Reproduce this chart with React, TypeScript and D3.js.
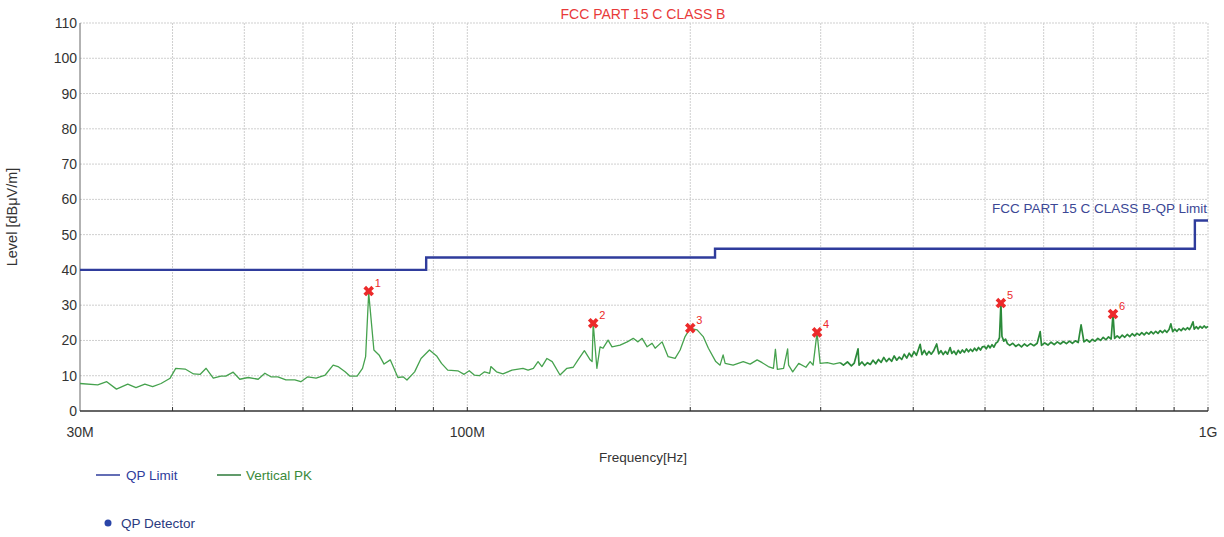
import React, { useEffect, useRef } from 'react';
import * as d3 from 'd3';

const W = 1224;
const H = 537;
const FONT = '"Liberation Sans", Arial, sans-serif';

// axis
const yTicks = [0, 10, 20, 30, 40, 50, 60, 70, 80, 90, 100, 110];
const gridFreqs = [40, 50, 60, 70, 80, 90, 100, 200, 300, 400, 500, 600, 700, 800, 900, 1000];
const xLabelFreqs = [30, 100, 1000];
const xLabelTexts = ['30M', '100M', '1G'];

// FCC part 15 class B QP limit (MHz, dBuV/m)
const limitFreq = [30, 88, 88, 216, 216, 960, 960, 1000];
const limitLevel = [40, 40, 43.5, 43.5, 46, 46, 54, 54];

// suspected peaks
const markerFreq = [73.6, 147.9, 200.0, 296.6, 525.3, 744.3];
const markerLevel = [34.0, 24.9, 23.5, 22.3, 30.6, 27.5];
const markerNames = ['1', '2', '3', '4', '5', '6'];

// vertical PK scan, [MHz, dBuV/m]
const vertPK: [number, number][] = [
  [30, 7.8], [31.7, 7.4], [32.6, 8.3], [33.6, 6.2], [34.8, 7.6], [35.7, 6.6], [36.7, 7.6],
  [37.6, 6.9], [38.6, 7.8], [39.7, 9.3], [40.4, 12.1], [41.6, 11.9], [42.7, 10.5], [43.6, 10.4],
  [44.4, 12.1], [45.4, 9.3], [46.5, 9.9], [47.2, 9.9], [48.3, 11.0], [49.3, 9.0], [50.6, 9.5],
  [52.2, 9.0], [53.3, 10.7], [54.3, 9.7], [55.5, 9.7], [56.9, 8.8], [58.5, 8.8], [59.6, 8.3],
  [60.9, 9.7], [62.5, 9.3], [64.3, 10.2], [65.9, 13.0], [66.9, 12.6], [68.4, 11.1], [69.4, 9.9],
  [71.0, 9.9], [72.2, 12.1], [72.9, 15.4], [73.6, 33.5], [74.8, 17.3], [76.0, 15.9], [77.2, 13.3],
  [78.7, 14.5], [80.6, 9.5], [81.9, 9.7], [82.9, 8.8], [84.9, 11.1], [86.6, 14.9], [88.9, 17.3],
  [90.9, 15.6], [92.3, 13.5], [94.1, 11.6], [97.1, 11.4], [99.0, 10.4], [100.6, 11.4], [102.2, 10.2],
  [103.8, 10.0], [105.5, 11.1], [107.2, 10.7], [107.6, 12.6], [109.5, 11.1], [111.7, 10.5],
  [114.9, 11.6], [118.9, 12.1], [120.8, 11.6], [122.8, 12.1], [124.6, 14.0], [126.1, 12.6],
  [128.1, 14.9], [130.2, 14.0], [133.4, 10.2], [136.3, 12.1], [139.0, 12.4], [141.1, 14.5],
  [143.9, 17.1], [145.6, 15.4], [146.5, 14.5], [147.4, 14.0], [147.9, 24.9], [149.6, 12.1],
  [151.1, 18.2], [152.5, 17.8], [154.9, 20.1], [156.8, 18.2], [160.8, 18.7], [164.4, 19.6],
  [167.5, 20.6], [170.0, 19.6], [172.2, 20.6], [174.9, 18.2], [177.6, 19.2], [179.3, 17.8],
  [183.2, 19.6], [186.7, 15.4], [190.8, 14.9], [193.8, 17.3], [196.8, 21.1], [199.9, 23.4],
  [204.3, 23.0], [208.2, 21.1], [211.6, 17.8], [216.5, 14.0], [219.4, 13.0], [221.5, 15.9],
  [222.9, 13.5], [228.5, 13.0], [235.8, 14.0], [240.9, 13.3], [246.2, 14.5], [250.1, 13.7],
  [254.9, 12.6], [259.0, 12.1], [260.6, 17.5], [262.2, 11.8], [267.3, 12.1], [270.7, 17.6],
  [271.5, 13.0], [275.0, 11.1], [280.2, 13.5], [286.5, 12.4], [290.3, 14.0], [293.0, 13.0],
  [296.6, 22.2], [299.5, 13.5], [306.2, 13.7], [312.2, 13.3], [318.7, 13.7],
  [322, 13.0], [326, 13.9], [330, 12.8], [333, 13.6], [336.9, 17.6], [338, 13.0], [341, 13.9],
  [344, 12.9], [347, 13.7], [350, 13.2], [353, 14.4], [356, 13.4], [359, 14.6], [362, 13.8],
  [365, 15.2], [368, 14.0], [371, 14.9], [374, 14.1], [377, 15.6], [380, 14.4], [383, 15.3],
  [386, 14.6], [389, 16.1], [392, 15.0], [395, 16.4], [398, 15.4], [401, 16.8], [404, 15.8],
  [408.7, 18.9], [411, 16.0], [414, 17.2], [417, 15.9], [420, 16.9], [423, 16.1], [426, 17.0],
  [430.2, 19.0], [433, 16.2], [436, 17.1], [439, 16.0], [442, 16.9], [445, 16.1], [448.6, 18.0],
  [451, 16.3], [454, 17.0], [457, 16.0], [460, 17.2], [463, 16.4], [466, 17.3], [469, 16.6],
  [472, 17.6], [475, 16.8], [478, 17.5], [481, 16.9], [484, 17.8], [487, 17.1], [490, 18.0],
  [493, 17.3], [496, 18.2], [499.4, 18.3], [502, 17.6], [505, 18.6], [508, 17.9], [511, 18.8],
  [514, 18.1], [517, 19.2], [520, 19.6], [523, 20.8], [525.3, 30.6], [527, 21.2], [530, 19.8],
  [533, 20.4], [536, 19.1], [540, 18.6], [545, 19.2], [550, 18.3], [555, 18.9], [560, 18.2],
  [565, 19.0], [570, 18.4], [576, 19.1], [582, 18.5], [588, 19.2], [593.5, 22.5], [596, 18.6],
  [602, 19.3], [608, 18.7], [614, 19.5], [620, 18.8], [626, 19.6], [632, 19.0], [638, 19.7],
  [644, 19.1], [650, 19.8], [656, 19.2], [662, 19.9], [668, 19.4], [674, 24.4], [680, 19.6],
  [686, 20.2], [692, 19.5], [698, 20.3], [704, 19.8], [710, 20.6], [716, 20.0], [722, 20.9],
  [728, 20.2], [734, 21.0], [740, 20.4], [744.3, 27.5], [748, 20.6], [754, 21.3], [760, 20.7],
  [766, 21.5], [772, 20.9], [778, 21.7], [784, 21.1], [790, 21.9], [796, 21.3], [802, 22.0],
  [808, 21.5], [814, 22.2], [820, 21.6], [826, 22.3], [832, 21.8], [838, 22.5], [844, 21.9],
  [850, 22.6], [856, 22.0], [862, 22.8], [868, 22.2], [874, 22.9], [880, 22.3], [886, 23.1],
  [891, 24.7], [896, 22.5], [902, 23.2], [908, 22.6], [914, 23.3], [920, 22.8], [926, 23.5],
  [932, 23.0], [938, 23.6], [944, 23.1], [948, 23.8], [954.5, 25.3], [958, 23.2], [964, 23.9],
  [970, 23.3], [976, 24.0], [982, 23.5], [988, 24.1], [994, 23.6], [1000, 24.0],
];

const App = () => {
  const ref = useRef<SVGSVGElement>(null);

  useEffect(() => {
    const svg = d3.select(ref.current);
    svg.selectAll('*').remove();

    const x = d3.scaleLog().domain([30, 1000]).range([80, 1208]);
    const y = d3.scaleLinear().domain([0, 110]).range([411, 23]);

    // grid
    svg.append('g')
      .selectAll('line')
      .data(yTicks.slice(1))
      .enter()
      .append('line')
      .attr('x1', 80).attr('x2', 1208)
      .attr('y1', d => y(d)).attr('y2', d => y(d))
      .attr('stroke', '#cfcfcf')
      .attr('stroke-dasharray', '2,1');

    svg.append('g')
      .selectAll('line')
      .data(gridFreqs)
      .enter()
      .append('line')
      .attr('x1', d => x(d)).attr('x2', d => x(d))
      .attr('y1', 23).attr('y2', 411)
      .attr('stroke', '#cfcfcf')
      .attr('stroke-dasharray', '2,1');

    // axes
    svg.append('line')
      .attr('x1', 80).attr('x2', 80).attr('y1', 23).attr('y2', 411)
      .attr('stroke', '#666');
    svg.append('line')
      .attr('x1', 80).attr('x2', 1208).attr('y1', 411).attr('y2', 411)
      .attr('stroke', '#333').attr('stroke-width', 1.5);

    svg.append('g')
      .selectAll('line')
      .data(gridFreqs)
      .enter()
      .append('line')
      .attr('x1', d => x(d)).attr('x2', d => x(d))
      .attr('y1', 407).attr('y2', 411)
      .attr('stroke', '#333');

    svg.append('g')
      .selectAll('text')
      .data(yTicks)
      .enter()
      .append('text')
      .attr('x', 77)
      .attr('y', d => y(d) + 5)
      .attr('text-anchor', 'end')
      .attr('font-size', 14)
      .attr('fill', '#333')
      .text(d => d);

    svg.append('g')
      .selectAll('text')
      .data(xLabelFreqs)
      .enter()
      .append('text')
      .attr('x', d => x(d))
      .attr('y', 437)
      .attr('text-anchor', 'middle')
      .attr('font-size', 14)
      .attr('fill', '#333')
      .text((d, i) => xLabelTexts[i]);

    svg.append('text')
      .attr('x', 643).attr('y', 462)
      .attr('text-anchor', 'middle')
      .attr('font-size', 13.5)
      .attr('fill', '#333')
      .text('Frequency[Hz]');

    svg.append('text')
      .attr('transform', 'translate(17,217) rotate(-90)')
      .attr('text-anchor', 'middle')
      .attr('font-size', 14.5)
      .attr('fill', '#333')
      .text('Level [dBμV/m]');

    svg.append('text')
      .attr('x', 643).attr('y', 19)
      .attr('text-anchor', 'middle')
      .attr('font-size', 14)
      .attr('fill', '#e83a3a')
      .text('FCC PART 15 C CLASS B');

    // limit
    const limitLine = d3.line<number>()
      .x(d => x(limitFreq[d]))
      .y(d => y(limitLevel[d]));
    svg.append('path')
      .attr('d', limitLine(d3.range(limitFreq.length)))
      .attr('fill', 'none')
      .attr('stroke', '#2f3c9c')
      .attr('stroke-width', 2.4);

    svg.append('text')
      .attr('x', 1207).attr('y', 213)
      .attr('text-anchor', 'end')
      .attr('font-size', 13.5)
      .attr('fill', '#3b4795')
      .text('FCC PART 15 C CLASS B-QP Limit');

    // trace: the smooth low band and the dense upper band
    const traceLine = d3.line<[number, number]>()
      .x(d => x(d[0]))
      .y(d => y(d[1]));
    const split = vertPK.findIndex(d => d[0] >= 318.7);
    svg.append('path')
      .attr('d', traceLine(vertPK.slice(0, split + 1)))
      .attr('fill', 'none')
      .attr('stroke', '#46a24e')
      .attr('stroke-width', 1.3)
      .attr('stroke-linejoin', 'round');
    svg.append('path')
      .attr('d', traceLine(vertPK.slice(split)))
      .attr('fill', 'none')
      .attr('stroke', '#2b8a3a')
      .attr('stroke-width', 1.7)
      .attr('stroke-linejoin', 'round');

    // markers
    const cross = d3.symbol().type(d3.symbolCross).size(70);
    const mk = svg.append('g')
      .selectAll('g')
      .data(markerFreq)
      .enter()
      .append('g')
      .attr('transform', (d, i) => `translate(${x(d)},${y(markerLevel[i])})`);
    mk.append('path')
      .attr('d', cross())
      .attr('transform', 'rotate(45)')
      .attr('fill', '#ec2a2a');
    mk.append('text')
      .attr('x', 6).attr('y', -4)
      .attr('font-size', 11)
      .attr('fill', '#ec2a2a')
      .text((d, i) => markerNames[i]);

    // legend
    svg.append('line')
      .attr('x1', 96).attr('x2', 120).attr('y1', 475).attr('y2', 475)
      .attr('stroke', '#2f3c9c').attr('stroke-width', 1.5);
    svg.append('text')
      .attr('x', 126).attr('y', 480)
      .attr('font-size', 13.5)
      .attr('fill', '#2f3c9c')
      .text('QP Limit');
    svg.append('line')
      .attr('x1', 217).attr('x2', 241).attr('y1', 475).attr('y2', 475)
      .attr('stroke', '#2c7a3a').attr('stroke-width', 1.5);
    svg.append('text')
      .attr('x', 246).attr('y', 480)
      .attr('font-size', 13.5)
      .attr('fill', '#3a8a3a')
      .text('Vertical PK');
    svg.append('circle')
      .attr('cx', 108).attr('cy', 523).attr('r', 3.5)
      .attr('fill', '#2a45a8');
    svg.append('text')
      .attr('x', 121).attr('y', 528)
      .attr('font-size', 13.5)
      .attr('fill', '#2a3a80')
      .text('QP Detector');
  }, []);

  return (
    <svg
      ref={ref}
      width={W}
      height={H}
      style={{ position: 'absolute', left: 0, top: 0, background: '#fff', fontFamily: FONT }}
    />
  );
};

export default App;
